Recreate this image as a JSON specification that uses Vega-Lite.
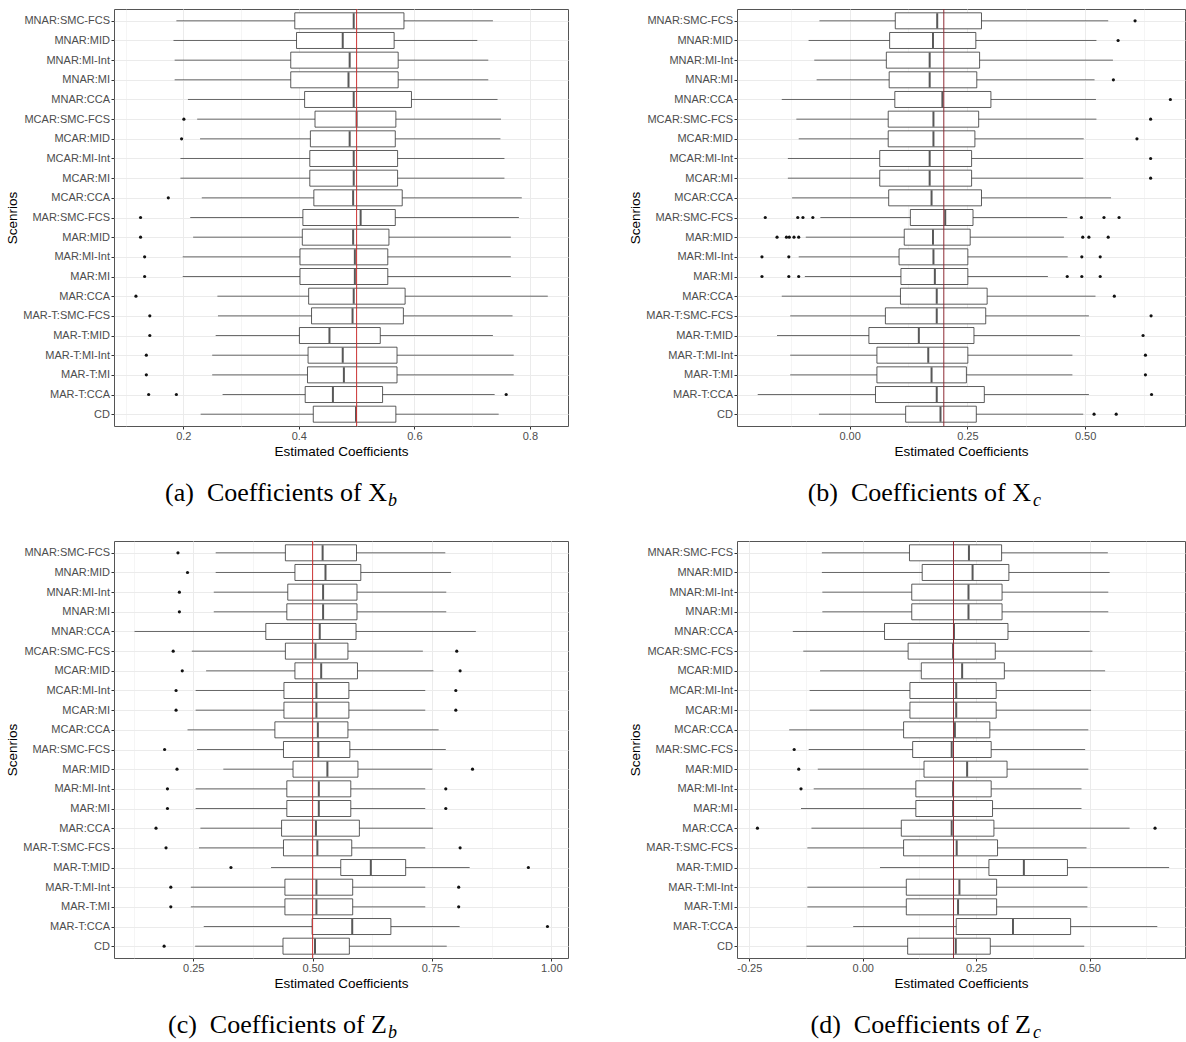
{
  "$schema": "https://vega.github.io/schema/vega-lite/v6.json",
  "padding": {"left": 5, "top": 8, "right": 0, "bottom": 0},
  "background": "white",
  "config": {
    "view": {"stroke": "#555555", "strokeWidth": 1},
    "axis": {
      "labelFont": "Liberation Sans", "labelFontSize": 11, "labelColor": "#4D4D4D",
      "titleFont": "Liberation Sans", "titleFontSize": 13.5, "titleFontWeight": "normal", "titleColor": "#000000",
      "tickColor": "#333333", "tickSize": 3, "domain": false, "gridColor": "#EBEBEB",
      "labelPadding": 1.5, "titlePadding": 3
    },
    "title": {"font": "Liberation Serif", "fontSize": 26, "fontWeight": "normal", "color": "#000000", "orient": "bottom", "offset": 22, "anchor": "end", "frame": "bounds",
              "subtitleFont": "Liberation Serif", "subtitleFontStyle": "italic", "subtitleFontSize": 18, "subtitleColor": "#000000", "subtitlePadding": -14}
  },
  "datasets": {
    "a": [
      {"s": "MNAR:SMC-FCS", "lo": 0.188, "q1": 0.393, "med": 0.495, "q3": 0.582, "hi": 0.736},
      {"s": "MNAR:MID", "lo": 0.183, "q1": 0.396, "med": 0.476, "q3": 0.565, "hi": 0.709},
      {"s": "MNAR:MI-Int", "lo": 0.185, "q1": 0.386, "med": 0.488, "q3": 0.572, "hi": 0.728},
      {"s": "MNAR:MI", "lo": 0.185, "q1": 0.386, "med": 0.486, "q3": 0.572, "hi": 0.728},
      {"s": "MNAR:CCA", "lo": 0.208, "q1": 0.410, "med": 0.495, "q3": 0.595, "hi": 0.744},
      {"s": "MCAR:SMC-FCS", "lo": 0.224, "q1": 0.428, "med": 0.500, "q3": 0.568, "hi": 0.750},
      {"s": "MCAR:MID", "lo": 0.229, "q1": 0.420, "med": 0.488, "q3": 0.567, "hi": 0.749},
      {"s": "MCAR:MI-Int", "lo": 0.195, "q1": 0.419, "med": 0.495, "q3": 0.571, "hi": 0.756},
      {"s": "MCAR:MI", "lo": 0.195, "q1": 0.419, "med": 0.495, "q3": 0.571, "hi": 0.756},
      {"s": "MCAR:CCA", "lo": 0.232, "q1": 0.426, "med": 0.494, "q3": 0.579, "hi": 0.786},
      {"s": "MAR:SMC-FCS", "lo": 0.212, "q1": 0.407, "med": 0.507, "q3": 0.567, "hi": 0.781},
      {"s": "MAR:MID", "lo": 0.217, "q1": 0.406, "med": 0.494, "q3": 0.556, "hi": 0.767},
      {"s": "MAR:MI-Int", "lo": 0.199, "q1": 0.402, "med": 0.497, "q3": 0.554, "hi": 0.767},
      {"s": "MAR:MI", "lo": 0.199, "q1": 0.402, "med": 0.497, "q3": 0.554, "hi": 0.767},
      {"s": "MAR:CCA", "lo": 0.259, "q1": 0.417, "med": 0.495, "q3": 0.584, "hi": 0.831},
      {"s": "MAR-T:SMC-FCS", "lo": 0.260, "q1": 0.422, "med": 0.493, "q3": 0.581, "hi": 0.770},
      {"s": "MAR-T:MID", "lo": 0.256, "q1": 0.401, "med": 0.453, "q3": 0.541, "hi": 0.736},
      {"s": "MAR-T:MI-Int", "lo": 0.250, "q1": 0.416, "med": 0.476, "q3": 0.570, "hi": 0.772},
      {"s": "MAR-T:MI", "lo": 0.250, "q1": 0.415, "med": 0.478, "q3": 0.570, "hi": 0.772},
      {"s": "MAR-T:CCA", "lo": 0.268, "q1": 0.411, "med": 0.459, "q3": 0.545, "hi": 0.739},
      {"s": "CD", "lo": 0.230, "q1": 0.425, "med": 0.499, "q3": 0.568, "hi": 0.746}
    ],
    "ao": [
      {"s": "MCAR:SMC-FCS", "v": 0.201}, {"s": "MCAR:MID", "v": 0.197}, {"s": "MCAR:CCA", "v": 0.174},
      {"s": "MAR:SMC-FCS", "v": 0.126}, {"s": "MAR:MID", "v": 0.126}, {"s": "MAR:MI-Int", "v": 0.133},
      {"s": "MAR:MI", "v": 0.133}, {"s": "MAR:CCA", "v": 0.118}, {"s": "MAR-T:SMC-FCS", "v": 0.142},
      {"s": "MAR-T:MID", "v": 0.142}, {"s": "MAR-T:MI-Int", "v": 0.136}, {"s": "MAR-T:MI", "v": 0.136},
      {"s": "MAR-T:CCA", "v": 0.140}, {"s": "MAR-T:CCA", "v": 0.188}, {"s": "MAR-T:CCA", "v": 0.759}
    ],
    "b": [
      {"s": "MNAR:SMC-FCS", "lo": -0.064, "q1": 0.097, "med": 0.186, "q3": 0.280, "hi": 0.549},
      {"s": "MNAR:MID", "lo": -0.087, "q1": 0.085, "med": 0.177, "q3": 0.268, "hi": 0.524},
      {"s": "MNAR:MI-Int", "lo": -0.075, "q1": 0.078, "med": 0.170, "q3": 0.276, "hi": 0.559},
      {"s": "MNAR:MI", "lo": -0.070, "q1": 0.084, "med": 0.170, "q3": 0.270, "hi": 0.520},
      {"s": "MNAR:CCA", "lo": -0.144, "q1": 0.096, "med": 0.197, "q3": 0.300, "hi": 0.523},
      {"s": "MCAR:SMC-FCS", "lo": -0.113, "q1": 0.082, "med": 0.178, "q3": 0.274, "hi": 0.524},
      {"s": "MCAR:MID", "lo": -0.108, "q1": 0.082, "med": 0.178, "q3": 0.266, "hi": 0.497},
      {"s": "MCAR:MI-Int", "lo": -0.131, "q1": 0.064, "med": 0.170, "q3": 0.259, "hi": 0.496},
      {"s": "MCAR:MI", "lo": -0.131, "q1": 0.064, "med": 0.170, "q3": 0.259, "hi": 0.496},
      {"s": "MCAR:CCA", "lo": -0.122, "q1": 0.083, "med": 0.174, "q3": 0.280, "hi": 0.555},
      {"s": "MAR:SMC-FCS", "lo": -0.062, "q1": 0.129, "med": 0.203, "q3": 0.262, "hi": 0.462},
      {"s": "MAR:MID", "lo": -0.093, "q1": 0.116, "med": 0.177, "q3": 0.256, "hi": 0.455},
      {"s": "MAR:MI-Int", "lo": -0.108, "q1": 0.105, "med": 0.178, "q3": 0.251, "hi": 0.463},
      {"s": "MAR:MI", "lo": -0.095, "q1": 0.109, "med": 0.181, "q3": 0.251, "hi": 0.421},
      {"s": "MAR:CCA", "lo": -0.144, "q1": 0.108, "med": 0.185, "q3": 0.292, "hi": 0.522},
      {"s": "MAR-T:SMC-FCS", "lo": -0.126, "q1": 0.076, "med": 0.185, "q3": 0.289, "hi": 0.508},
      {"s": "MAR-T:MID", "lo": -0.154, "q1": 0.041, "med": 0.147, "q3": 0.264, "hi": 0.489},
      {"s": "MAR-T:MI-Int", "lo": -0.126, "q1": 0.058, "med": 0.167, "q3": 0.251, "hi": 0.473},
      {"s": "MAR-T:MI", "lo": -0.126, "q1": 0.058, "med": 0.174, "q3": 0.248, "hi": 0.473},
      {"s": "MAR-T:CCA", "lo": -0.195, "q1": 0.055, "med": 0.185, "q3": 0.286, "hi": 0.508},
      {"s": "CD", "lo": -0.065, "q1": 0.119, "med": 0.193, "q3": 0.269, "hi": 0.496}
    ],
    "bo": [
      {"s": "MNAR:SMC-FCS", "v": 0.606}, {"s": "MNAR:MID", "v": 0.570}, {"s": "MNAR:MI", "v": 0.560},
      {"s": "MNAR:CCA", "v": 0.681}, {"s": "MCAR:SMC-FCS", "v": 0.639}, {"s": "MCAR:MID", "v": 0.610},
      {"s": "MCAR:MI-Int", "v": 0.639}, {"s": "MCAR:MI", "v": 0.639},
      {"s": "MAR:SMC-FCS", "v": -0.179}, {"s": "MAR:SMC-FCS", "v": -0.110}, {"s": "MAR:SMC-FCS", "v": -0.099},
      {"s": "MAR:SMC-FCS", "v": -0.078}, {"s": "MAR:SMC-FCS", "v": 0.492}, {"s": "MAR:SMC-FCS", "v": 0.540},
      {"s": "MAR:SMC-FCS", "v": 0.572},
      {"s": "MAR:MID", "v": -0.154}, {"s": "MAR:MID", "v": -0.134}, {"s": "MAR:MID", "v": -0.128},
      {"s": "MAR:MID", "v": -0.118}, {"s": "MAR:MID", "v": -0.108}, {"s": "MAR:MID", "v": 0.495},
      {"s": "MAR:MID", "v": 0.508}, {"s": "MAR:MID", "v": 0.549},
      {"s": "MAR:MI-Int", "v": -0.186}, {"s": "MAR:MI-Int", "v": -0.129}, {"s": "MAR:MI-Int", "v": 0.493},
      {"s": "MAR:MI-Int", "v": 0.532},
      {"s": "MAR:MI", "v": -0.186}, {"s": "MAR:MI", "v": -0.129}, {"s": "MAR:MI", "v": -0.108},
      {"s": "MAR:MI", "v": 0.462}, {"s": "MAR:MI", "v": 0.493}, {"s": "MAR:MI", "v": 0.532},
      {"s": "MAR:CCA", "v": 0.562}, {"s": "MAR-T:SMC-FCS", "v": 0.640}, {"s": "MAR-T:MID", "v": 0.623},
      {"s": "MAR-T:MI-Int", "v": 0.628}, {"s": "MAR-T:MI", "v": 0.628}, {"s": "MAR-T:CCA", "v": 0.641},
      {"s": "CD", "v": 0.519}, {"s": "CD", "v": 0.566}
    ],
    "c": [
      {"s": "MNAR:SMC-FCS", "lo": 0.297, "q1": 0.443, "med": 0.521, "q3": 0.592, "hi": 0.778},
      {"s": "MNAR:MID", "lo": 0.297, "q1": 0.463, "med": 0.527, "q3": 0.601, "hi": 0.790},
      {"s": "MNAR:MI-Int", "lo": 0.293, "q1": 0.448, "med": 0.522, "q3": 0.593, "hi": 0.780},
      {"s": "MNAR:MI", "lo": 0.293, "q1": 0.446, "med": 0.522, "q3": 0.593, "hi": 0.780},
      {"s": "MNAR:CCA", "lo": 0.127, "q1": 0.402, "med": 0.515, "q3": 0.591, "hi": 0.842},
      {"s": "MCAR:SMC-FCS", "lo": 0.247, "q1": 0.443, "med": 0.506, "q3": 0.574, "hi": 0.731},
      {"s": "MCAR:MID", "lo": 0.277, "q1": 0.463, "med": 0.518, "q3": 0.594, "hi": 0.753},
      {"s": "MCAR:MI-Int", "lo": 0.255, "q1": 0.440, "med": 0.508, "q3": 0.576, "hi": 0.736},
      {"s": "MCAR:MI", "lo": 0.255, "q1": 0.440, "med": 0.508, "q3": 0.576, "hi": 0.736},
      {"s": "MCAR:CCA", "lo": 0.238, "q1": 0.421, "med": 0.511, "q3": 0.574, "hi": 0.764},
      {"s": "MAR:SMC-FCS", "lo": 0.258, "q1": 0.439, "med": 0.512, "q3": 0.578, "hi": 0.779},
      {"s": "MAR:MID", "lo": 0.313, "q1": 0.459, "med": 0.531, "q3": 0.595, "hi": 0.751},
      {"s": "MAR:MI-Int", "lo": 0.255, "q1": 0.446, "med": 0.513, "q3": 0.580, "hi": 0.736},
      {"s": "MAR:MI", "lo": 0.255, "q1": 0.446, "med": 0.513, "q3": 0.580, "hi": 0.736},
      {"s": "MAR:CCA", "lo": 0.265, "q1": 0.435, "med": 0.507, "q3": 0.598, "hi": 0.752},
      {"s": "MAR-T:SMC-FCS", "lo": 0.262, "q1": 0.439, "med": 0.510, "q3": 0.582, "hi": 0.736},
      {"s": "MAR-T:MID", "lo": 0.413, "q1": 0.559, "med": 0.622, "q3": 0.695, "hi": 0.829},
      {"s": "MAR-T:MI-Int", "lo": 0.245, "q1": 0.442, "med": 0.508, "q3": 0.584, "hi": 0.736},
      {"s": "MAR-T:MI", "lo": 0.245, "q1": 0.442, "med": 0.508, "q3": 0.584, "hi": 0.736},
      {"s": "MAR-T:CCA", "lo": 0.272, "q1": 0.499, "med": 0.583, "q3": 0.664, "hi": 0.808},
      {"s": "CD", "lo": 0.254, "q1": 0.438, "med": 0.505, "q3": 0.577, "hi": 0.781}
    ],
    "co": [
      {"s": "MNAR:SMC-FCS", "v": 0.218}, {"s": "MNAR:MID", "v": 0.238}, {"s": "MNAR:MI-Int", "v": 0.221},
      {"s": "MNAR:MI", "v": 0.221}, {"s": "MCAR:SMC-FCS", "v": 0.208}, {"s": "MCAR:SMC-FCS", "v": 0.802},
      {"s": "MCAR:MID", "v": 0.227}, {"s": "MCAR:MID", "v": 0.809}, {"s": "MCAR:MI-Int", "v": 0.214},
      {"s": "MCAR:MI-Int", "v": 0.800}, {"s": "MCAR:MI", "v": 0.214}, {"s": "MCAR:MI", "v": 0.800},
      {"s": "MAR:SMC-FCS", "v": 0.190}, {"s": "MAR:MID", "v": 0.216}, {"s": "MAR:MID", "v": 0.835},
      {"s": "MAR:MI-Int", "v": 0.196}, {"s": "MAR:MI-Int", "v": 0.779}, {"s": "MAR:MI", "v": 0.196},
      {"s": "MAR:MI", "v": 0.779}, {"s": "MAR:CCA", "v": 0.172}, {"s": "MAR-T:SMC-FCS", "v": 0.193},
      {"s": "MAR-T:SMC-FCS", "v": 0.809}, {"s": "MAR-T:MID", "v": 0.329}, {"s": "MAR-T:MID", "v": 0.952},
      {"s": "MAR-T:MI-Int", "v": 0.203}, {"s": "MAR-T:MI-Int", "v": 0.806}, {"s": "MAR-T:MI", "v": 0.203},
      {"s": "MAR-T:MI", "v": 0.806}, {"s": "MAR-T:CCA", "v": 0.992}, {"s": "CD", "v": 0.189}
    ],
    "d": [
      {"s": "MNAR:SMC-FCS", "lo": -0.090, "q1": 0.103, "med": 0.234, "q3": 0.306, "hi": 0.540},
      {"s": "MNAR:MID", "lo": -0.090, "q1": 0.131, "med": 0.242, "q3": 0.322, "hi": 0.544},
      {"s": "MNAR:MI-Int", "lo": -0.089, "q1": 0.108, "med": 0.233, "q3": 0.307, "hi": 0.541},
      {"s": "MNAR:MI", "lo": -0.089, "q1": 0.108, "med": 0.233, "q3": 0.307, "hi": 0.541},
      {"s": "MNAR:CCA", "lo": -0.154, "q1": 0.048, "med": 0.201, "q3": 0.320, "hi": 0.500},
      {"s": "MCAR:SMC-FCS", "lo": -0.131, "q1": 0.100, "med": 0.199, "q3": 0.292, "hi": 0.506},
      {"s": "MCAR:MID", "lo": -0.094, "q1": 0.129, "med": 0.219, "q3": 0.312, "hi": 0.534},
      {"s": "MCAR:MI-Int", "lo": -0.117, "q1": 0.104, "med": 0.206, "q3": 0.294, "hi": 0.503},
      {"s": "MCAR:MI", "lo": -0.117, "q1": 0.104, "med": 0.206, "q3": 0.294, "hi": 0.503},
      {"s": "MCAR:CCA", "lo": -0.162, "q1": 0.090, "med": 0.203, "q3": 0.280, "hi": 0.497},
      {"s": "MAR:SMC-FCS", "lo": -0.119, "q1": 0.110, "med": 0.196, "q3": 0.283, "hi": 0.490},
      {"s": "MAR:MID", "lo": -0.099, "q1": 0.135, "med": 0.230, "q3": 0.318, "hi": 0.497},
      {"s": "MAR:MI-Int", "lo": -0.108, "q1": 0.117, "med": 0.199, "q3": 0.283, "hi": 0.482},
      {"s": "MAR:MI", "lo": -0.136, "q1": 0.117, "med": 0.199, "q3": 0.286, "hi": 0.482},
      {"s": "MAR:CCA", "lo": -0.113, "q1": 0.085, "med": 0.196, "q3": 0.289, "hi": 0.588},
      {"s": "MAR-T:SMC-FCS", "lo": -0.122, "q1": 0.090, "med": 0.207, "q3": 0.297, "hi": 0.493},
      {"s": "MAR-T:MID", "lo": 0.038, "q1": 0.278, "med": 0.355, "q3": 0.451, "hi": 0.675},
      {"s": "MAR-T:MI-Int", "lo": -0.122, "q1": 0.096, "med": 0.213, "q3": 0.295, "hi": 0.495},
      {"s": "MAR-T:MI", "lo": -0.122, "q1": 0.096, "med": 0.210, "q3": 0.295, "hi": 0.495},
      {"s": "MAR-T:CCA", "lo": -0.021, "q1": 0.206, "med": 0.331, "q3": 0.458, "hi": 0.649},
      {"s": "CD", "lo": -0.124, "q1": 0.099, "med": 0.205, "q3": 0.281, "hi": 0.488}
    ],
    "do": [
      {"s": "MAR:SMC-FCS", "v": -0.151}, {"s": "MAR:MID", "v": -0.141}, {"s": "MAR:MI-Int", "v": -0.136},
      {"s": "MAR:CCA", "v": -0.232}, {"s": "MAR:CCA", "v": 0.644}
    ]
  },
  "vconcat": [
    {
      "spacing": 59,
      "hconcat": [
        {
          "width": 454, "height": 417,
          "title": {"text": "(a)\u2002Coefficients of X\u2800", "subtitle": "b\u2002\u2060", "dx": -162},
          "layer": [
            {"data": {"name": "a"}, "mark": {"type": "rule", "color": "#444444", "strokeWidth": 0.8},
             "encoding": {
               "y": {"field": "s", "type": "nominal", "title": "Scenrios", "scale": {"type": "point", "padding": 0.6, "domain": ["MNAR:SMC-FCS","MNAR:MID","MNAR:MI-Int","MNAR:MI","MNAR:CCA","MCAR:SMC-FCS","MCAR:MID","MCAR:MI-Int","MCAR:MI","MCAR:CCA","MAR:SMC-FCS","MAR:MID","MAR:MI-Int","MAR:MI","MAR:CCA","MAR-T:SMC-FCS","MAR-T:MID","MAR-T:MI-Int","MAR-T:MI","MAR-T:CCA","CD"]}, "axis": {"grid": true}},
               "x": {"field": "lo", "type": "quantitative", "title": "Estimated Coefficients", "scale": {"domain": [0.080, 0.866], "nice": false, "zero": false},
                     "axis": {"values": [0.1,0.2,0.3,0.4,0.5,0.6,0.7,0.8], "labelExpr": "round(datum.value*10)%2==0 ? format(datum.value,'.1f') : ''", "tickOpacity": {"condition": {"test": "round(datum.value*10)%2==0", "value": 1}, "value": 0}, "gridWidth": {"condition": {"test": "round(datum.value*10)%2==0", "value": 1}, "value": 0.5}}},
               "x2": {"field": "hi"}}},
            {"data": {"name": "a"}, "mark": {"type": "bar", "fill": "white", "stroke": "#333333", "strokeWidth": 0.8, "size": 16},
             "encoding": {"y": {"field": "s", "type": "nominal"}, "x": {"field": "q1", "type": "quantitative", "title": "Estimated Coefficients"}, "x2": {"field": "q3"}}},
            {"data": {"name": "a"}, "mark": {"type": "tick", "color": "#111111", "thickness": 2, "size": 15},
             "encoding": {"y": {"field": "s", "type": "nominal"}, "x": {"field": "med", "type": "quantitative", "title": "Estimated Coefficients"}}},
            {"data": {"name": "ao"}, "mark": {"type": "circle", "color": "#111111", "size": 10, "opacity": 1},
             "encoding": {"y": {"field": "s", "type": "nominal"}, "x": {"field": "v", "type": "quantitative", "title": "Estimated Coefficients"}}},
            {"data": {"values": [{"ref": 0.5}]}, "mark": {"type": "rule", "color": "#CC3333", "strokeWidth": 1}, "encoding": {"x": {"field": "ref", "type": "quantitative", "title": "Estimated Coefficients"}}}
          ]
        },
        {
          "width": 448, "height": 417,
          "title": {"text": "(b)\u2002Coefficients of X\u2800", "subtitle": "c\u2002\u2060", "dx": -135},
          "layer": [
            {"data": {"name": "b"}, "mark": {"type": "rule", "color": "#444444", "strokeWidth": 0.8},
             "encoding": {
               "y": {"field": "s", "type": "nominal", "title": "Scenrios", "scale": {"type": "point", "padding": 0.6, "domain": ["MNAR:SMC-FCS","MNAR:MID","MNAR:MI-Int","MNAR:MI","MNAR:CCA","MCAR:SMC-FCS","MCAR:MID","MCAR:MI-Int","MCAR:MI","MCAR:CCA","MAR:SMC-FCS","MAR:MID","MAR:MI-Int","MAR:MI","MAR:CCA","MAR-T:SMC-FCS","MAR-T:MID","MAR-T:MI-Int","MAR-T:MI","MAR-T:CCA","CD"]}, "axis": {"grid": true}},
               "x": {"field": "lo", "type": "quantitative", "title": "Estimated Coefficients", "scale": {"domain": [-0.239, 0.712], "nice": false, "zero": false},
                     "axis": {"values": [-0.125,0,0.125,0.25,0.375,0.5,0.625], "labelExpr": "round(datum.value*8)%2==0 ? (datum.value < 0 ? '-' + format(-datum.value,'.2f') : format(datum.value,'.2f')) : ''", "tickOpacity": {"condition": {"test": "round(datum.value*8)%2==0", "value": 1}, "value": 0}, "gridWidth": {"condition": {"test": "round(datum.value*8)%2==0", "value": 1}, "value": 0.5}}},
               "x2": {"field": "hi"}}},
            {"data": {"name": "b"}, "mark": {"type": "bar", "fill": "white", "stroke": "#333333", "strokeWidth": 0.8, "size": 16},
             "encoding": {"y": {"field": "s", "type": "nominal"}, "x": {"field": "q1", "type": "quantitative", "title": "Estimated Coefficients"}, "x2": {"field": "q3"}}},
            {"data": {"name": "b"}, "mark": {"type": "tick", "color": "#111111", "thickness": 2, "size": 15},
             "encoding": {"y": {"field": "s", "type": "nominal"}, "x": {"field": "med", "type": "quantitative", "title": "Estimated Coefficients"}}},
            {"data": {"name": "bo"}, "mark": {"type": "circle", "color": "#111111", "size": 10, "opacity": 1},
             "encoding": {"y": {"field": "s", "type": "nominal"}, "x": {"field": "v", "type": "quantitative", "title": "Estimated Coefficients"}}},
            {"data": {"values": [{"ref": 0.2}]}, "mark": {"type": "rule", "color": "#8E2B35", "strokeWidth": 1}, "encoding": {"x": {"field": "ref", "type": "quantitative", "title": "Estimated Coefficients"}}}
          ]
        }
      ]
    },
    {
      "spacing": 59,
      "hconcat": [
        {
          "width": 454, "height": 417,
          "title": {"text": "(c)\u2002Coefficients of Z\u2800", "subtitle": "b\u2002\u2060", "dx": -162},
          "layer": [
            {"data": {"name": "c"}, "mark": {"type": "rule", "color": "#444444", "strokeWidth": 0.8},
             "encoding": {
               "y": {"field": "s", "type": "nominal", "title": "Scenrios", "scale": {"type": "point", "padding": 0.6, "domain": ["MNAR:SMC-FCS","MNAR:MID","MNAR:MI-Int","MNAR:MI","MNAR:CCA","MCAR:SMC-FCS","MCAR:MID","MCAR:MI-Int","MCAR:MI","MCAR:CCA","MAR:SMC-FCS","MAR:MID","MAR:MI-Int","MAR:MI","MAR:CCA","MAR-T:SMC-FCS","MAR-T:MID","MAR-T:MI-Int","MAR-T:MI","MAR-T:CCA","CD"]}, "axis": {"grid": true}},
               "x": {"field": "lo", "type": "quantitative", "title": "Estimated Coefficients", "scale": {"domain": [0.084, 1.035], "nice": false, "zero": false},
                     "axis": {"values": [0.125,0.25,0.375,0.5,0.625,0.75,0.875,1.0], "labelExpr": "round(datum.value*8)%2==0 ? format(datum.value,'.2f') : ''", "tickOpacity": {"condition": {"test": "round(datum.value*8)%2==0", "value": 1}, "value": 0}, "gridWidth": {"condition": {"test": "round(datum.value*8)%2==0", "value": 1}, "value": 0.5}}},
               "x2": {"field": "hi"}}},
            {"data": {"name": "c"}, "mark": {"type": "bar", "fill": "white", "stroke": "#333333", "strokeWidth": 0.8, "size": 16},
             "encoding": {"y": {"field": "s", "type": "nominal"}, "x": {"field": "q1", "type": "quantitative", "title": "Estimated Coefficients"}, "x2": {"field": "q3"}}},
            {"data": {"name": "c"}, "mark": {"type": "tick", "color": "#111111", "thickness": 2, "size": 15},
             "encoding": {"y": {"field": "s", "type": "nominal"}, "x": {"field": "med", "type": "quantitative", "title": "Estimated Coefficients"}}},
            {"data": {"name": "co"}, "mark": {"type": "circle", "color": "#111111", "size": 10, "opacity": 1},
             "encoding": {"y": {"field": "s", "type": "nominal"}, "x": {"field": "v", "type": "quantitative", "title": "Estimated Coefficients"}}},
            {"data": {"values": [{"ref": 0.5}]}, "mark": {"type": "rule", "color": "#CC3333", "strokeWidth": 1}, "encoding": {"x": {"field": "ref", "type": "quantitative", "title": "Estimated Coefficients"}}}
          ]
        },
        {
          "width": 448, "height": 417,
          "title": {"text": "(d)\u2002Coefficients of Z\u2800", "subtitle": "c\u2002\u2060", "dx": -135},
          "layer": [
            {"data": {"name": "d"}, "mark": {"type": "rule", "color": "#444444", "strokeWidth": 0.8},
             "encoding": {
               "y": {"field": "s", "type": "nominal", "title": "Scenrios", "scale": {"type": "point", "padding": 0.6, "domain": ["MNAR:SMC-FCS","MNAR:MID","MNAR:MI-Int","MNAR:MI","MNAR:CCA","MCAR:SMC-FCS","MCAR:MID","MCAR:MI-Int","MCAR:MI","MCAR:CCA","MAR:SMC-FCS","MAR:MID","MAR:MI-Int","MAR:MI","MAR:CCA","MAR-T:SMC-FCS","MAR-T:MID","MAR-T:MI-Int","MAR-T:MI","MAR-T:CCA","CD"]}, "axis": {"grid": true}},
               "x": {"field": "lo", "type": "quantitative", "title": "Estimated Coefficients", "scale": {"domain": [-0.277, 0.710], "nice": false, "zero": false},
                     "axis": {"values": [-0.25,-0.125,0,0.125,0.25,0.375,0.5,0.625], "labelExpr": "round(datum.value*8)%2==0 ? (datum.value < 0 ? '-' + format(-datum.value,'.2f') : format(datum.value,'.2f')) : ''", "tickOpacity": {"condition": {"test": "round(datum.value*8)%2==0", "value": 1}, "value": 0}, "gridWidth": {"condition": {"test": "round(datum.value*8)%2==0", "value": 1}, "value": 0.5}}},
               "x2": {"field": "hi"}}},
            {"data": {"name": "d"}, "mark": {"type": "bar", "fill": "white", "stroke": "#333333", "strokeWidth": 0.8, "size": 16},
             "encoding": {"y": {"field": "s", "type": "nominal"}, "x": {"field": "q1", "type": "quantitative", "title": "Estimated Coefficients"}, "x2": {"field": "q3"}}},
            {"data": {"name": "d"}, "mark": {"type": "tick", "color": "#111111", "thickness": 2, "size": 15},
             "encoding": {"y": {"field": "s", "type": "nominal"}, "x": {"field": "med", "type": "quantitative", "title": "Estimated Coefficients"}}},
            {"data": {"name": "do"}, "mark": {"type": "circle", "color": "#111111", "size": 10, "opacity": 1},
             "encoding": {"y": {"field": "s", "type": "nominal"}, "x": {"field": "v", "type": "quantitative", "title": "Estimated Coefficients"}}},
            {"data": {"values": [{"ref": 0.2}]}, "mark": {"type": "rule", "color": "#8E2B35", "strokeWidth": 1}, "encoding": {"x": {"field": "ref", "type": "quantitative", "title": "Estimated Coefficients"}}}
          ]
        }
      ]
    }
  ],
  "spacing": 29
}
